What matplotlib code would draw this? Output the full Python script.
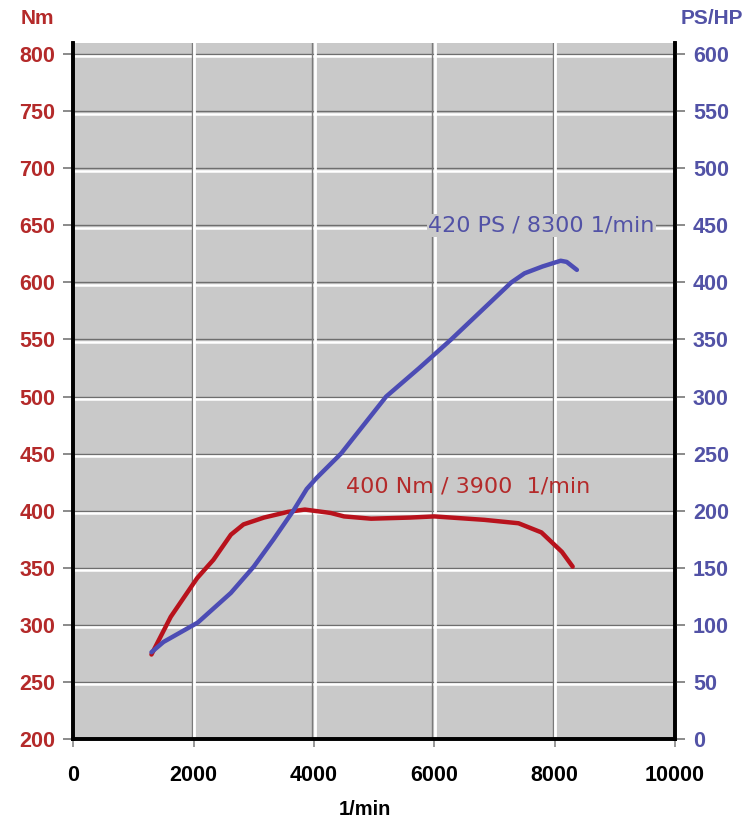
import numpy as np
import matplotlib
matplotlib.use('Agg')
import matplotlib.pyplot as plt

plt.rcParams['font.family'] = ['Liberation Sans', 'DejaVu Sans']

# torque curve (Nm) vs rpm
rpm_nm = [1300, 1620, 2060, 2330, 2620, 2830, 3170, 3570, 3850, 4280, 4500,
          4950, 5600, 6000, 6830, 7400, 7780, 8120, 8300]
torque = [274, 307, 341, 357, 379, 388, 394, 399, 401, 398, 395,
          393, 394, 395, 392, 389, 381, 364, 351]

# power curve (PS) vs rpm
rpm_ps = [1300, 1500, 2070, 2620, 3000, 3330, 3670, 3880, 4050, 4450, 5200, 5750,
          6280, 6800, 7280, 7500, 7800, 8100, 8200, 8370]
power = [76, 85, 102, 128, 151, 175, 201, 219, 229, 250, 300, 325,
         350, 376, 400, 408, 414, 419, 418, 411]

nm_ticks = [200, 250, 300, 350, 400, 450, 500, 550, 600, 650, 700, 750, 800]
ps_ticks = [0, 50, 100, 150, 200, 250, 300, 350, 400, 450, 500, 550, 600]
rpm_ticks = [0, 2000, 4000, 6000, 8000, 10000]

red = '#b8121c'
blue = '#4c4cb4'
red_txt = '#b42a2a'
blue_txt = '#5252a6'
bg = '#c9c9c9'

fig = plt.figure(figsize=(7.55, 8.22), dpi=100)
ax = fig.add_axes([0.097, 0.101, 0.797, 0.847])
ax.set_facecolor(bg)
ax.set_xlim(0, 10000)
ax.set_ylim(200, 810)

# embossed grid
for v in nm_ticks[1:]:
    ax.axhline(v, color='#6e6e6e', lw=1.0, zorder=1)
    ax.axhline(v - 2.0, color='white', lw=1.8, zorder=1)
for v in rpm_ticks[1:-1]:
    ax.axvline(v - 30, color='#7a7a7a', lw=1.0, zorder=1)
    ax.axvline(v + 10, color='white', lw=2.0, zorder=1)

ax.plot(rpm_nm, torque, color=red, lw=3.2, solid_capstyle='round', zorder=3)

ax2 = ax.twinx()
ax2.set_ylim(0, 610)
ax2.plot(rpm_ps, power, color=blue, lw=3.2, solid_capstyle='round', zorder=3)

ax.text(4530, 421, '400 Nm / 3900  1/min', color=red_txt, fontsize=16,
        family='DejaVu Sans', va='center', ha='left', zorder=4)
ax.text(5900, 650, '420 PS / 8300 1/min', color=blue_txt, fontsize=16,
        family='DejaVu Sans', va='center', ha='left', zorder=4,
        bbox=dict(facecolor=bg, edgecolor='none', pad=1))

for a in [ax, ax2]:
    a.spines['top'].set_visible(False)
    for s in ['left', 'right', 'bottom']:
        a.spines[s].set_linewidth(2.6)
        a.spines[s].set_color('black')

ax.set_yticks(nm_ticks)
ax.set_yticklabels([str(v) for v in nm_ticks], color=red_txt, fontweight='bold', fontsize=15.5)
ax.tick_params(axis='y', direction='out', length=7, width=1.2, color='#777777', pad=6)
ax2.set_yticks(ps_ticks)
ax2.set_yticklabels([str(v) for v in ps_ticks], color=blue_txt, fontweight='bold', fontsize=15.5)
ax2.tick_params(axis='y', direction='out', length=7, width=1.2, color='#777777', pad=6)

ax.set_xticks(rpm_ticks)
ax.set_xticklabels([str(v) for v in rpm_ticks], fontweight='bold', fontsize=15.5)
ax.tick_params(axis='x', direction='out', length=6, width=1.2, color='#888888', pad=13)

fig.text(0.483, 0.0146, '1/min', fontweight='bold', fontsize=14.5, ha='center', va='center')
fig.text(0.05, 0.978, 'Nm', color=red_txt, fontweight='bold', fontsize=15, ha='center', va='center')
fig.text(0.943, 0.978, 'PS/HP', color=blue_txt, fontweight='bold', fontsize=15, ha='center', va='center')

fig.savefig('out.png', dpi=100)
